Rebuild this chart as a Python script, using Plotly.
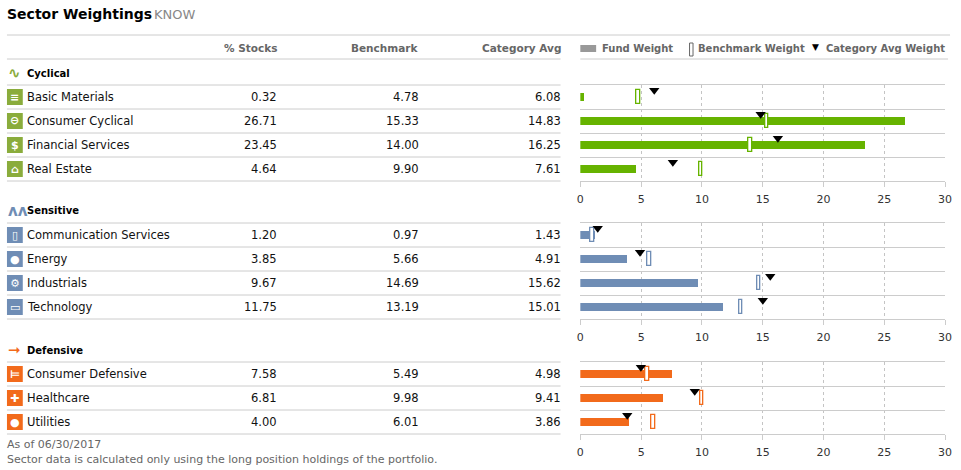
import plotly.graph_objects as go

# sector data
cyclical_sectors = ["Basic Materials", "Consumer Cyclical", "Financial Services", "Real Estate"]
cyclical_stocks = [0.32, 26.71, 23.45, 4.64]
cyclical_bench = [4.78, 15.33, 14.00, 9.90]
cyclical_cat = [6.08, 14.83, 16.25, 7.61]

sensitive_sectors = ["Communication Services", "Energy", "Industrials", "Technology"]
sensitive_stocks = [1.20, 3.85, 9.67, 11.75]
sensitive_bench = [0.97, 5.66, 14.69, 13.19]
sensitive_cat = [1.43, 4.91, 15.62, 15.01]

defensive_sectors = ["Consumer Defensive", "Healthcare", "Utilities"]
defensive_stocks = [7.58, 6.81, 4.00]
defensive_bench = [5.49, 9.98, 6.01]
defensive_cat = [4.98, 9.41, 3.86]

axis_ticks = [0, 5, 10, 15, 20, 25, 30]

W, H = 961, 470


def fx(p):
    return p / W


def fy(p):
    return 1 - p / H


blocks = [
    dict(name="Cyclical", top=85, bar="#66b300", icon="#8aac3c", mark="∿",
         sectors=cyclical_sectors, stocks=cyclical_stocks, bench=cyclical_bench, cat=cyclical_cat,
         glyphs=["≡", "⊖", "$", "⌂"]),
    dict(name="Sensitive", top=223, bar="#6f8db5", icon="#6f8db5", mark="ᴧᴧ",
         sectors=sensitive_sectors, stocks=sensitive_stocks, bench=sensitive_bench, cat=sensitive_cat,
         glyphs=["▯", "●", "⚙", "▭"]),
    dict(name="Defensive", top=362, bar="#f26a1b", icon="#f26a1b", mark="➞",
         sectors=defensive_sectors, stocks=defensive_stocks, bench=defensive_bench, cat=defensive_cat,
         glyphs=["⊨", "✚", "●"]),
]

FONT = "DejaVu Sans"
fig = go.Figure()
shapes = []
annotations = []
layout_axes = {}


def hline(y, x0, x1, color="#cccccc"):
    shapes.append(dict(type="line", xref="paper", yref="paper", x0=fx(x0), x1=fx(x1),
                       y0=fy(y), y1=fy(y), line=dict(color=color, width=1)))


def text(x, y, s, size=11, color="#111111", bold=False, anchor="left"):
    annotations.append(dict(xref="paper", yref="paper", x=fx(x), y=fy(y), text=f"<b>{s}</b>" if bold else s,
                            showarrow=False, xanchor=anchor, yanchor="middle",
                            font=dict(family=FONT, size=size, color=color)))


# title
text(1, 14, "Sector Weightings", size=14, color="#000000", bold=True)
text(150, 14, "KNOW", size=13, color="#888888")
hline(35, 3, 957)

# column headers
text(278, 48, "% Stocks", size=10.5, color="#666666", bold=True, anchor="right")
text(422, 48, "Benchmark", size=10.5, color="#666666", bold=True, anchor="right")
text(565, 48, "Category Avg", size=10.5, color="#666666", bold=True, anchor="right")
hline(59, 3, 563)
hline(59, 583, 955)

# legend
shapes.append(dict(type="rect", xref="paper", yref="paper", x0=fx(583), x1=fx(599), y0=fy(52), y1=fy(45),
                   fillcolor="#999999", line=dict(width=0)))
text(603, 48, "Fund Weight", size=10, color="#666666", bold=True)
shapes.append(dict(type="rect", xref="paper", yref="paper", x0=fx(693.5), x1=fx(697), y0=fy(56), y1=fy(43),
                   fillcolor="white", line=dict(color="#666666", width=1)))
text(700, 48, "Benchmark Weight", size=10, color="#666666", bold=True)
text(821, 47, "▼", size=9, color="#000000", anchor="center")
text(830, 48, "Category Avg Weight", size=10, color="#666666", bold=True)

for i, b in enumerate(blocks):
    k = "" if i == 0 else str(i + 1)
    xa, ya = "x" + k, "y" + k
    n = len(b["sectors"])
    rows = list(range(n))
    top = b["top"]

    fig.add_trace(go.Bar(x=b["stocks"], y=rows, orientation="h", width=0.33,
                         marker=dict(color=b["bar"], line=dict(width=0)),
                         xaxis=xa, yaxis=ya, showlegend=False, hoverinfo="x"))
    fig.add_trace(go.Bar(x=[0.3] * n, base=[v - 0.15 for v in b["bench"]], y=rows, orientation="h",
                         width=0.62, marker=dict(color="white", line=dict(color=b["bar"], width=1.3)),
                         xaxis=xa, yaxis=ya, showlegend=False, hoverinfo="skip"))
    fig.add_trace(go.Scatter(x=b["cat"], y=[r - 0.28 for r in rows], mode="markers",
                             marker=dict(symbol="triangle-down", size=9, color="black"),
                             xaxis=xa, yaxis=ya, showlegend=False, hoverinfo="x"))

    layout_axes["xaxis" + k] = dict(
        domain=[fx(583), fx(952)], range=[0, 30], anchor=ya, tickvals=axis_ticks,
        showgrid=True, gridcolor="#c4c4c4", griddash="dot", gridwidth=1, zeroline=False,
        showline=True, linecolor="#cccccc", mirror=True, ticks="outside", ticklen=5,
        tickcolor="#cccccc", ticklabelstandoff=3,
        tickfont=dict(family=FONT, size=11, color="#333333"), fixedrange=True)
    layout_axes["yaxis" + k] = dict(
        domain=[fy(top + 24 * n), fy(top)], range=[n - 0.5, -0.5], anchor=xa,
        tickvals=[r + 0.5 for r in rows[:-1]], showticklabels=False, showgrid=True,
        gridcolor="#cccccc", zeroline=False, showline=False, ticks="", fixedrange=True)

    # group header
    text(2, top - 12, b["mark"], size=15, color=b["icon"], bold=True)
    text(21, top - 12, b["name"], size=10, color="#000000", bold=True)

    # table rows
    for j in range(n + 1):
        hline(top + 24 * j, 3, 563)
    for j, name in enumerate(b["sectors"]):
        cy = top + 12 + 24 * j
        shapes.append(dict(type="rect", xref="paper", yref="paper", x0=fx(3), x1=fx(19),
                           y0=fy(cy + 8), y1=fy(cy - 8), fillcolor=b["icon"], line=dict(width=0)))
        text(11, cy, b["glyphs"][j], size=11, color="white", bold=True, anchor="center")
        text(21, cy, name, size=11.5)
        text(278, cy, f"{b['stocks'][j]:.2f}", size=11.5, anchor="right")
        text(422, cy, f"{b['bench'][j]:.2f}", size=11.5, anchor="right")
        text(565, cy, f"{b['cat'][j]:.2f}", size=11.5, anchor="right")

# footer
text(1, 444, "As of 06/30/2017", size=11, color="#666666")
text(1, 459, "Sector data is calculated only using the long position holdings of the portfolio.",
     size=11, color="#666666")

fig.update_layout(
    width=W, height=H, autosize=False, margin=dict(l=0, r=0, t=0, b=0),
    paper_bgcolor="white", plot_bgcolor="white",
    barmode="overlay", bargap=0,
    font=dict(family=FONT, size=11, color="#111111"),
    shapes=shapes, annotations=annotations, showlegend=False,
    **layout_axes,
)

fig.write_html(
    "out.html",
    config={"displayModeBar": False, "responsive": False},
    post_script="document.body.style.margin='0';document.body.style.overflow='hidden';",
)
